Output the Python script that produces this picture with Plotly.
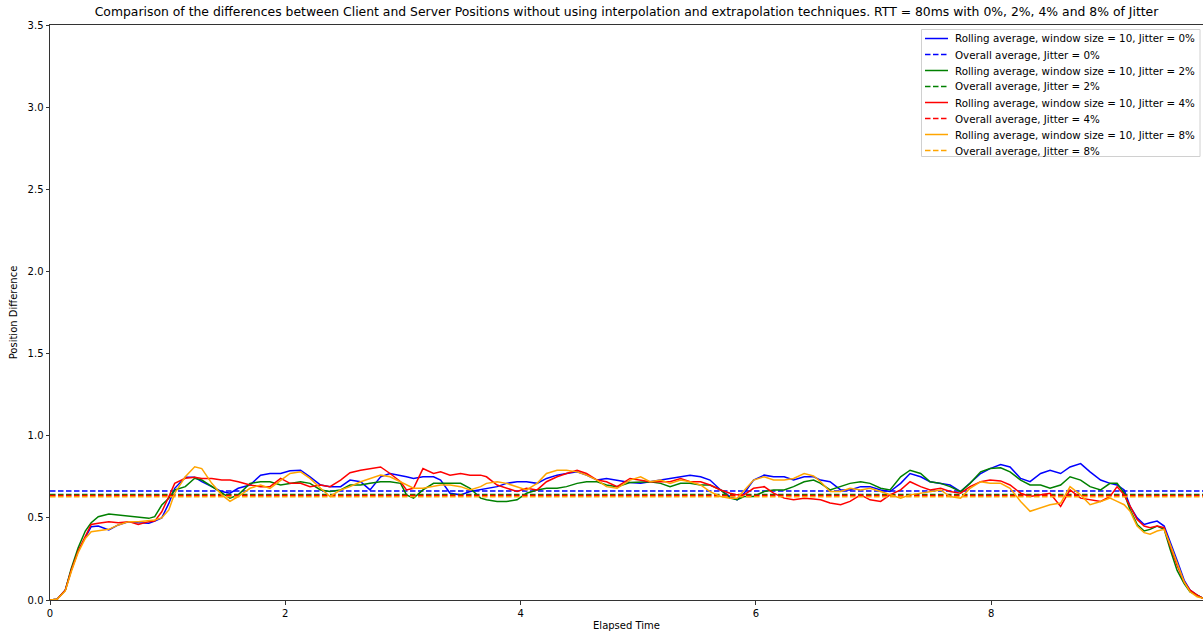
import plotly.graph_objects as go

# Elapsed time samples (seconds)
elapsed = (
    [0.0, 0.06, 0.13, 0.18, 0.24, 0.30, 0.35, 0.41, 0.50, 0.58, 0.67, 0.75, 0.84, 0.89, 0.95]
    + [1.01, 1.06, 1.15, 1.23, 1.29, 1.375, 1.46, 1.53, 1.60]
    + [1.70, 1.79, 1.87, 1.96, 2.04, 2.13, 2.21, 2.30, 2.38, 2.47, 2.55, 2.64, 2.72, 2.81,
       2.89, 2.98, 3.03, 3.09, 3.17, 3.26, 3.32]
    + [3.40, 3.49, 3.57, 3.66, 3.71, 3.80, 3.88, 3.97, 4.05, 4.14, 4.22, 4.31, 4.39, 4.48,
       4.56, 4.65, 4.73, 4.82, 4.93]
    + [5.02, 5.10, 5.19, 5.27, 5.36, 5.44, 5.53, 5.61, 5.70, 5.78, 5.84, 5.90, 5.98, 6.07,
       6.15, 6.24, 6.32, 6.41, 6.49, 6.55]
    + [6.63, 6.72, 6.80, 6.89, 6.97, 7.06, 7.14, 7.23, 7.31, 7.40, 7.48, 7.57, 7.65, 7.74,
       7.82, 7.91, 7.99, 8.08]
    + [8.16, 8.25, 8.33, 8.42, 8.50, 8.59, 8.67, 8.76, 8.84, 8.93, 9.01, 9.07, 9.13, 9.18,
       9.24, 9.30, 9.35, 9.41, 9.47, 9.52, 9.58, 9.64, 9.69, 9.75, 9.80]
)

# Rolling averages (window size = 10) of the client/server position difference
rolling_jitter_0 = (
    [0.0, 0.005, 0.06, 0.18, 0.30, 0.385, 0.446, 0.45, 0.426, 0.457, 0.477, 0.47, 0.467, 0.48, 0.50]
    + [0.588, 0.68, 0.747, 0.747, 0.72, 0.69, 0.66, 0.65, 0.68]
    + [0.70, 0.76, 0.77, 0.77, 0.787, 0.79, 0.75, 0.70, 0.69, 0.69, 0.73, 0.72, 0.67, 0.75,
       0.77, 0.76, 0.75, 0.74, 0.75, 0.75, 0.73]
    + [0.65, 0.64, 0.66, 0.67, 0.68, 0.69, 0.71, 0.72, 0.72, 0.71, 0.74, 0.76, 0.77, 0.78,
       0.76, 0.73, 0.74, 0.73, 0.715]
    + [0.71, 0.72, 0.73, 0.74, 0.75, 0.76, 0.75, 0.73, 0.67, 0.63, 0.61, 0.65, 0.73, 0.76,
       0.75, 0.75, 0.73, 0.75, 0.75, 0.73]
    + [0.72, 0.67, 0.67, 0.69, 0.69, 0.67, 0.66, 0.71, 0.77, 0.75, 0.72, 0.71, 0.70, 0.66,
       0.71, 0.77, 0.80, 0.825]
    + [0.81, 0.74, 0.72, 0.77, 0.79, 0.77, 0.81, 0.83, 0.78, 0.73, 0.71, 0.70, 0.67, 0.57,
       0.50, 0.46, 0.47, 0.48, 0.45, 0.36, 0.24, 0.12, 0.06, 0.03, 0.01]
)
rolling_jitter_2 = (
    [0.0, 0.005, 0.06, 0.19, 0.32, 0.42, 0.47, 0.507, 0.523, 0.517, 0.513, 0.507, 0.497, 0.507, 0.578]
    + [0.619, 0.67, 0.69, 0.741, 0.73, 0.69, 0.65, 0.62, 0.64]
    + [0.71, 0.72, 0.72, 0.70, 0.71, 0.72, 0.71, 0.67, 0.66, 0.67, 0.70, 0.70, 0.71, 0.72,
       0.72, 0.71, 0.64, 0.62, 0.67, 0.71, 0.71]
    + [0.71, 0.71, 0.68, 0.62, 0.61, 0.60, 0.60, 0.61, 0.65, 0.67, 0.68, 0.68, 0.69, 0.71,
       0.72, 0.72, 0.70, 0.69, 0.715]
    + [0.72, 0.72, 0.71, 0.69, 0.71, 0.71, 0.70, 0.70, 0.67, 0.62, 0.61, 0.63, 0.63, 0.66,
       0.67, 0.67, 0.69, 0.72, 0.73, 0.71]
    + [0.67, 0.69, 0.71, 0.72, 0.71, 0.68, 0.67, 0.75, 0.79, 0.77, 0.72, 0.71, 0.69, 0.66,
       0.71, 0.78, 0.80, 0.805]
    + [0.78, 0.73, 0.70, 0.70, 0.68, 0.70, 0.75, 0.73, 0.69, 0.67, 0.71, 0.71, 0.65, 0.55,
       0.46, 0.42, 0.43, 0.45, 0.43, 0.31, 0.18, 0.10, 0.05, 0.03, 0.01]
)
rolling_jitter_4 = (
    [0.0, 0.005, 0.06, 0.18, 0.30, 0.385, 0.46, 0.467, 0.477, 0.47, 0.477, 0.46, 0.477, 0.48, 0.537]
    + [0.629, 0.71, 0.741, 0.747, 0.74, 0.74, 0.73, 0.73, 0.72]
    + [0.70, 0.69, 0.69, 0.74, 0.71, 0.71, 0.69, 0.70, 0.69, 0.73, 0.775, 0.79, 0.80, 0.81,
       0.77, 0.72, 0.67, 0.68, 0.80, 0.77, 0.78]
    + [0.76, 0.77, 0.76, 0.76, 0.75, 0.70, 0.68, 0.66, 0.68, 0.67, 0.72, 0.75, 0.77, 0.79,
       0.77, 0.73, 0.72, 0.69, 0.74]
    + [0.73, 0.72, 0.72, 0.72, 0.74, 0.72, 0.72, 0.70, 0.67, 0.65, 0.64, 0.64, 0.68, 0.69,
       0.65, 0.62, 0.61, 0.62, 0.615, 0.61]
    + [0.59, 0.58, 0.60, 0.64, 0.61, 0.60, 0.64, 0.67, 0.72, 0.69, 0.67, 0.68, 0.66, 0.65,
       0.69, 0.72, 0.73, 0.725]
    + [0.70, 0.65, 0.63, 0.64, 0.65, 0.57, 0.67, 0.62, 0.61, 0.60, 0.63, 0.69, 0.64, 0.57,
       0.49, 0.45, 0.44, 0.45, 0.44, 0.33, 0.21, 0.11, 0.06, 0.03, 0.01]
)
rolling_jitter_8 = (
    [0.0, 0.005, 0.055, 0.17, 0.29, 0.375, 0.415, 0.42, 0.43, 0.457, 0.477, 0.477, 0.484, 0.487, 0.50]
    + [0.548, 0.65, 0.75, 0.811, 0.80, 0.71, 0.64, 0.60, 0.63]
    + [0.68, 0.70, 0.68, 0.73, 0.77, 0.78, 0.74, 0.68, 0.63, 0.67, 0.69, 0.72, 0.74, 0.76,
       0.75, 0.72, 0.70, 0.68, 0.68, 0.69, 0.70]
    + [0.70, 0.69, 0.67, 0.69, 0.71, 0.72, 0.71, 0.69, 0.67, 0.71, 0.77, 0.79, 0.79, 0.78,
       0.76, 0.73, 0.69, 0.68, 0.73]
    + [0.75, 0.72, 0.73, 0.71, 0.73, 0.72, 0.70, 0.66, 0.63, 0.62, 0.62, 0.67, 0.73, 0.75,
       0.73, 0.73, 0.74, 0.77, 0.755, 0.72]
    + [0.66, 0.66, 0.68, 0.67, 0.68, 0.66, 0.64, 0.62, 0.64, 0.65, 0.66, 0.67, 0.63, 0.62,
       0.68, 0.72, 0.71, 0.71]
    + [0.68, 0.60, 0.54, 0.56, 0.58, 0.59, 0.69, 0.64, 0.58, 0.60, 0.62, 0.60, 0.58, 0.54,
       0.45, 0.41, 0.40, 0.42, 0.43, 0.34, 0.22, 0.11, 0.05, 0.02, 0.01]
)

# Overall averages per jitter level
overall_avg = {"0%": 0.663, "2%": 0.642, "4%": 0.636, "8%": 0.628}

jitter_levels = ["0%", "2%", "4%", "8%"]
rolling = [rolling_jitter_0, rolling_jitter_2, rolling_jitter_4, rolling_jitter_8]
colors = ["#0000ff", "#008000", "#ff0000", "#ffa500"]

x_max = 9.80
DASH = "5.5px,2.5px"

fig = go.Figure()
entries = []
for level, series, color in zip(jitter_levels, rolling, colors):
    roll_name = f"Rolling average, window size = 10, Jitter = {level}"
    avg_name = f"Overall average, Jitter = {level}"
    fig.add_trace(go.Scatter(
        x=elapsed, y=series, mode="lines",
        line=dict(color=color, width=1.5), name=roll_name, showlegend=False,
    ))
    fig.add_trace(go.Scatter(
        x=[0, x_max], y=[overall_avg[level]] * 2, mode="lines",
        line=dict(color=color, width=1.5, dash=DASH), name=avg_name, showlegend=False,
    ))
    entries.append((roll_name, color, "solid"))
    entries.append((avg_name, color, DASH))

# Compact legend box in the upper-right corner (pixel layout converted to paper units)
W, H = 1203, 635
ML, MR, MT, MB = 50, 0, 25, 35
PW, PH = W - ML - MR, H - MT - MB


def px_x(px):
    return (px - ML) / PW


def px_y(py):
    return (H - MB - py) / PH


shapes = [dict(
    type="rect", xref="paper", yref="paper",
    x0=px_x(921.5), x1=px_x(1200), y0=px_y(156.5), y1=px_y(29.5),
    line=dict(color="#d0d0d0", width=1), fillcolor="rgba(255,255,255,0.8)", layer="above",
)]
annotations = []
for i, (label, color, dash) in enumerate(entries):
    row_y = 38.5 + 16 * i
    shapes.append(dict(
        type="line", xref="paper", yref="paper",
        x0=px_x(925), x1=px_x(948), y0=px_y(row_y), y1=px_y(row_y),
        line=dict(color=color, width=1.5, dash=dash), layer="above",
    ))
    annotations.append(dict(
        text=label, xref="paper", yref="paper", x=px_x(953), y=px_y(row_y),
        xanchor="left", yanchor="middle", showarrow=False,
        font=dict(size=10.3, color="#000000"),
    ))

font = "DejaVu Sans, Arial, sans-serif"
fig.update_layout(
    width=W, height=H,
    margin=dict(l=ML, r=MR, t=MT, b=MB),
    paper_bgcolor="white", plot_bgcolor="white",
    font=dict(family=font, size=10, color="#000000"),
    title=dict(
        text="Comparison of the differences between Client and Server Positions without using "
             "interpolation and extrapolation techniques. RTT = 80ms with 0%, 2%, 4% and 8% of Jitter",
        font=dict(family=font, size=12.4, color="#000000"),
        x=0.5, xref="paper", xanchor="center",
        y=1, yref="container", yanchor="top", pad=dict(t=7),
    ),
    xaxis=dict(
        range=[0, x_max], tickvals=[0, 2, 4, 6, 8],
        showgrid=False, zeroline=False,
        showline=True, linecolor="#333333", linewidth=1, mirror=True,
        ticks="outside", ticklen=3.5, tickcolor="#333333",
        title=dict(text="Elapsed Time", font=dict(size=10), standoff=4),
    ),
    yaxis=dict(
        range=[0, 3.5], tickvals=[0, 0.5, 1.0, 1.5, 2.0, 2.5, 3.0, 3.5], tickformat=".1f",
        showgrid=False, zeroline=False,
        showline=True, linecolor="#333333", linewidth=1,
        ticks="outside", ticklen=3.5, tickcolor="#333333",
        title=dict(text="Position Difference", font=dict(size=10), standoff=8),
    ),
    shapes=shapes,
    annotations=annotations,
    showlegend=False,
)

fig.write_html("out.html")
